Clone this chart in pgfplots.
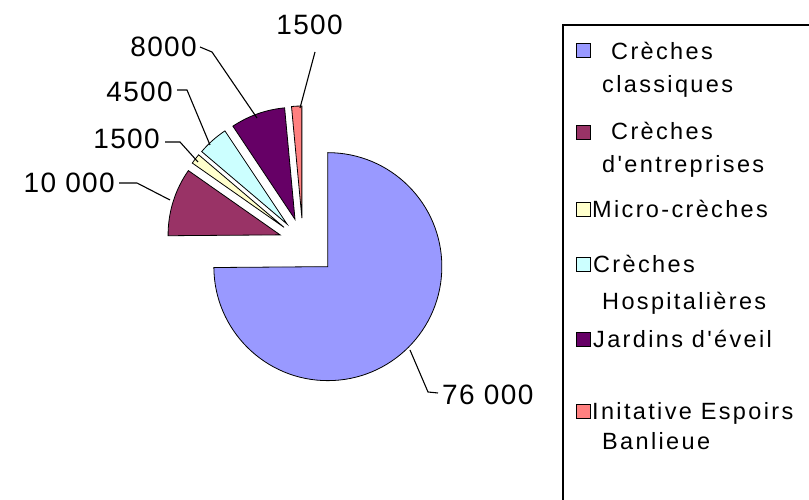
\documentclass[border=0pt]{standalone}
\usepackage{pgfplots}
\pgfplotsset{compat=1.18}
\usepackage{pgfplotstable}
\usetikzlibrary{calc}
\usepackage{fontspec}
\setmainfont{Liberation Sans}
\newfontfamily\legfont[LetterSpace=10]{Liberation Sans}
\newfontfamily\labfont[LetterSpace=5]{Liberation Sans}

\definecolor{pc0}{HTML}{9999FF}
\definecolor{pc1}{HTML}{993366}
\definecolor{pc2}{HTML}{FFFFCC}
\definecolor{pc3}{HTML}{CCFFFF}
\definecolor{pc4}{HTML}{660066}
\definecolor{pc5}{HTML}{FF8080}

% value = slice value, explode = offset of slice (pt), radius (pt)
\pgfplotstableread{
value explode radius
76000 35 114
10000 24 112
1500  24 112
4500  24 112
8000  24 112
1500  24 112
}\piedata

\newcommand\pieslice[1]{%
  \edef\temp{\noexpand\filldraw[fill=pc#1,draw=black,line width=0.8pt]
    ($(axis cs:303,258)+(\csname aM#1\endcsname:\csname ex#1\endcsname pt)$)
    -- ++(\csname aS#1\endcsname:\csname rr#1\endcsname pt)
    arc[start angle=\csname aS#1\endcsname,end angle=\csname aE#1\endcsname,radius=\csname rr#1\endcsname pt]
    -- cycle;}%
  \temp}

\newcommand\legfs{\legfont\fontsize{23.5pt}{27pt}\selectfont}
\newcommand\labfs{\labfont\fontsize{28pt}{32pt}\selectfont}

\begin{document}
\begin{tikzpicture}
% compute angles from the table values
\gdef\cum{0}
\pgfplotsforeachungrouped \i in {0,...,5}{%
  \pgfplotstablegetelem{\i}{value}\of\piedata\let\v\pgfplotsretval
  \xdef\cum{\fpeval{\cum+\v}}%
}
\xdef\total{\cum}
\gdef\cum{0}
\pgfplotsforeachungrouped \i in {0,...,5}{%
  \pgfplotstablegetelem{\i}{value}\of\piedata\let\v\pgfplotsretval
  \pgfplotstablegetelem{\i}{explode}\of\piedata\let\ex\pgfplotsretval
  \pgfplotstablegetelem{\i}{radius}\of\piedata\let\rr\pgfplotsretval
  \expandafter\xdef\csname aS\i\endcsname{\fpeval{round(90-360*\cum/\total,3)}}%
  \xdef\cum{\fpeval{\cum+\v}}%
  \expandafter\xdef\csname aE\i\endcsname{\fpeval{round(90-360*\cum/\total,3)}}%
  \expandafter\xdef\csname aM\i\endcsname{\fpeval{round((\csname aS\i\endcsname+\csname aE\i\endcsname)/2,3)}}%
  \expandafter\xdef\csname ex\i\endcsname{\ex}%
  \expandafter\xdef\csname rr\i\endcsname{\rr}%
}
\begin{axis}[
  hide axis, scale only axis, clip=false,
  width=809pt, height=500pt,
  xmin=0, xmax=809, ymin=0, ymax=500,
]
\pieslice{0}
\pieslice{1}
\pieslice{2}
\pieslice{3}
\pieslice{4}
\pieslice{5}

% leader lines
\draw[line width=1.1pt] (axis cs:315,448) -- (axis cs:300,392);
\draw[line width=1.1pt] (axis cs:200,453) -- (axis cs:212,448) -- (axis cs:257,382);
\draw[line width=1.1pt] (axis cs:177,410) -- (axis cs:187,410) -- (axis cs:210,355);
\draw[line width=1.1pt] (axis cs:165,358) -- (axis cs:180,358) -- (axis cs:198,338);
\draw[line width=1.1pt] (axis cs:119,317) -- (axis cs:137,317) -- (axis cs:170,300);
\draw[line width=1.1pt] (axis cs:410,150) -- (axis cs:428,108) -- (axis cs:438,107);

% data labels
\node[anchor=base east,inner sep=0pt,font=\labfs] at (axis cs:343,465) {1500};
\node[anchor=base east,inner sep=0pt,font=\labfs] at (axis cs:197,443) {8000};
\node[anchor=base east,inner sep=0pt,font=\labfs] at (axis cs:173,398) {4500};
\node[anchor=base east,inner sep=0pt,font=\labfs] at (axis cs:160,351) {1500};
\node[anchor=base east,inner sep=0pt,font=\labfs] at (axis cs:115,307) {10 000};
\node[anchor=base west,inner sep=0pt,font=\labfs] at (axis cs:442,95) {76 000};

% legend
\draw[line width=1.4pt,fill=white] (axis cs:563,475) rectangle (axis cs:840,-30);
\filldraw[fill=pc0,draw=black,line width=1pt] (axis cs:576,442) rectangle (axis cs:590,456);
\filldraw[fill=pc1,draw=black,line width=1pt] (axis cs:576,360) rectangle (axis cs:590,374);
\filldraw[fill=pc2,draw=black,line width=1pt] (axis cs:576,283) rectangle (axis cs:590,297);
\filldraw[fill=pc3,draw=black,line width=1pt] (axis cs:576,228) rectangle (axis cs:590,242);
\filldraw[fill=pc4,draw=black,line width=1pt] (axis cs:576,153) rectangle (axis cs:590,167);
\filldraw[fill=pc5,draw=black,line width=1pt] (axis cs:576,81) rectangle (axis cs:590,95);
\node[anchor=base west,inner sep=0pt,font=\legfs] at (axis cs:611,440) {Crèches};
\node[anchor=base west,inner sep=0pt,font=\legfs] at (axis cs:602,407) {classiques};
\node[anchor=base west,inner sep=0pt,font=\legfs] at (axis cs:611,360) {Crèches};
\node[anchor=base west,inner sep=0pt,font=\legfs] at (axis cs:602,327) {d'entreprises};
\node[anchor=base west,inner sep=0pt,font=\legfs] at (axis cs:592,282) {Micro-crèches};
\node[anchor=base west,inner sep=0pt,font=\legfs] at (axis cs:593,227) {Crèches};
\node[anchor=base west,inner sep=0pt,font=\legfs] at (axis cs:602,190) {Hospitalières};
\node[anchor=base west,inner sep=0pt,font=\legfs] at (axis cs:593,152) {Jardins d'éveil};
\node[anchor=base west,inner sep=0pt,font=\legfs] at (axis cs:592,80) {Initative Espoirs};
\node[anchor=base west,inner sep=0pt,font=\legfs] at (axis cs:602,50) {Banlieue};
\end{axis}
\pgfresetboundingbox
\path[use as bounding box] (current axis.south west) rectangle (current axis.north east);
\end{tikzpicture}
\end{document}
